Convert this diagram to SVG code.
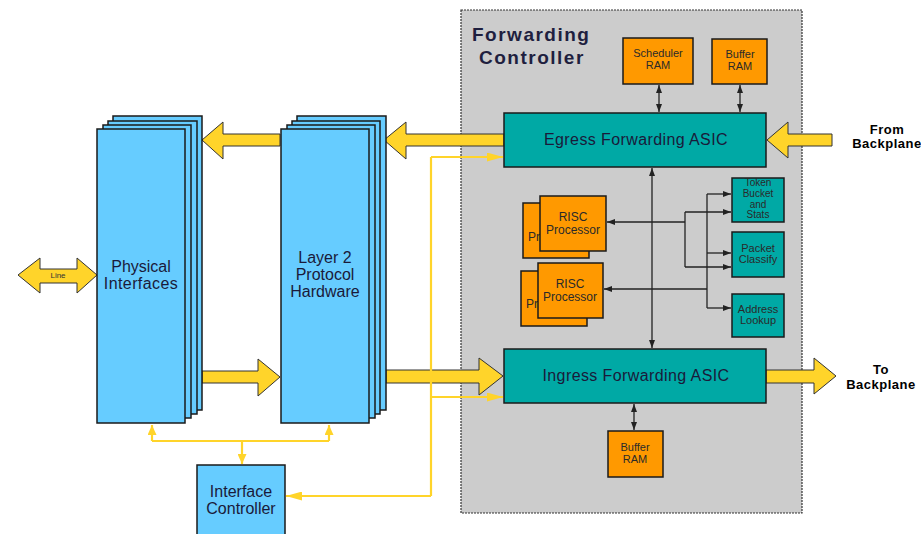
<svg xmlns="http://www.w3.org/2000/svg" width="921" height="534" viewBox="0 0 921 534">
<defs>
<style>
.blue{fill:#66CCFF;stroke:#1a1a1a;stroke-width:1.5}
.teal{fill:#00A9A5;stroke:#1a1a1a;stroke-width:1.5}
.orng{fill:#FF9900;stroke:#1a1a1a;stroke-width:1.5}
.big{fill:#FFD42A;stroke:#333;stroke-width:1}
.bus{fill:none;stroke:#FFD42A;stroke-width:2.2}
.blk{fill:none;stroke:#222;stroke-width:1.3}
.t16{font-family:"Liberation Sans",Arial,sans-serif;font-size:16px;fill:#1a1a3a;text-anchor:middle}
.t12{font-family:"Liberation Sans",Arial,sans-serif;font-size:12px;fill:#2a2a2a;text-anchor:middle}
.t11{font-family:"Liberation Sans",Arial,sans-serif;font-size:11px;fill:#2a2a2a;text-anchor:middle}
.t10{font-family:"Liberation Sans",Arial,sans-serif;font-size:10px;fill:#2a2a2a;text-anchor:middle}
.bp{font-family:"Liberation Sans",Arial,sans-serif;font-size:13px;font-weight:bold;fill:#000;text-anchor:middle;letter-spacing:0.5px}
.ttl{font-family:"Liberation Sans",Arial,sans-serif;font-size:19px;font-weight:bold;fill:#1F1F3F;letter-spacing:1.5px}
</style>
<marker id="ba" viewBox="0 0 8 6" refX="8" refY="3" markerWidth="8" markerHeight="6" markerUnits="userSpaceOnUse" orient="auto-start-reverse">
<path d="M0,0 L8,3 L0,6 z" fill="#222"/>
</marker>
<marker id="ya" viewBox="0 0 16 9" refX="16" refY="4.5" markerWidth="16" markerHeight="9" markerUnits="userSpaceOnUse" orient="auto-start-reverse">
<path d="M0,0 L16,4.5 L0,9 z" fill="#FFD42A"/>
</marker>
<marker id="ys" viewBox="0 0 10 9" refX="10" refY="4.5" markerWidth="10" markerHeight="9" markerUnits="userSpaceOnUse" orient="auto-start-reverse">
<path d="M0,0 L10,4.5 L0,9 z" fill="#FFD42A"/>
</marker>
</defs>
<rect width="921" height="534" fill="#ffffff"/>

<g id="forwarding-controller">
<rect x="461" y="10" width="341" height="503" fill="#CCCCCC" stroke="#333" stroke-width="1.2" stroke-dasharray="2,1"/>
<text class="ttl" x="472" y="41">Forwarding</text>
<text class="ttl" x="479" y="64">Controller</text>
</g>

<g id="connectors">
<path class="big" d="M504,134 L406,134 L406,122 L384,140 L406,159 L406,146 L504,146 z"/>
<path class="big" d="M280,134 L223,134 L223,122 L202,140 L223,159 L223,146 L280,146 z"/>
<path class="big" d="M202,371 L258,371 L258,359 L280,377 L258,396 L258,383 L202,383 z"/>
<path class="big" d="M386,370 L479,370 L479,358 L503,376 L479,395 L479,383 L386,383 z"/>
<path class="big" d="M832,134 L788,134 L788,122 L767,140 L788,158 L788,146 L832,146 z"/>
<path class="big" d="M766,370 L814,370 L814,358 L836,376 L814,394 L814,383 L766,383 z"/>
<path class="big" d="M18,275 L40,258 L40,269 L77,269 L77,258 L97,275 L77,293 L77,283 L40,283 L40,293 z"/>
<text x="58" y="278" style="font-family:'Liberation Sans',Arial,sans-serif;font-size:8px;fill:#333;text-anchor:middle">Line</text>

<path class="bus" d="M431,157 L431,496"/>
<path class="bus" d="M431,157 L503,157" marker-end="url(#ya)"/>
<path class="bus" d="M431,397 L503,397" marker-end="url(#ya)"/>
<path class="bus" d="M431,496 L286,496" marker-end="url(#ya)"/>
<path class="bus" d="M152,441 L329,441"/>
<path class="bus" d="M152,441 L152,425" marker-end="url(#ys)"/>
<path class="bus" d="M329,441 L329,425" marker-end="url(#ys)"/>
<path class="bus" d="M242,441 L242,464" marker-end="url(#ys)"/>

<path class="blk" d="M659,85 L659,112" marker-start="url(#ba)" marker-end="url(#ba)"/>
<path class="blk" d="M740,85 L740,112" marker-start="url(#ba)" marker-end="url(#ba)"/>
<path class="blk" d="M652,168 L652,348" marker-start="url(#ba)" marker-end="url(#ba)"/>
<path class="blk" d="M634,404 L634,430" marker-start="url(#ba)" marker-end="url(#ba)"/>
<path class="blk" d="M685,222 L607,222" marker-end="url(#ba)"/>
<path class="blk" d="M685,212 L685,267"/>
<path class="blk" d="M685,212 L731,212" marker-end="url(#ba)"/>
<path class="blk" d="M685,267 L731,267" marker-end="url(#ba)"/>
<path class="blk" d="M707,289 L604,289" marker-end="url(#ba)"/>
<path class="blk" d="M707,194 L707,308"/>
<path class="blk" d="M707,194 L731,194" marker-end="url(#ba)"/>
<path class="blk" d="M707,253 L731,253" marker-end="url(#ba)"/>
<path class="blk" d="M707,308 L731,308" marker-end="url(#ba)"/>
</g>

<g id="physical-interfaces">
<rect class="blue" x="113" y="116" width="89" height="294"/>
<rect class="blue" x="108" y="121" width="89" height="293"/>
<rect class="blue" x="103" y="125" width="88" height="293"/>
<rect class="blue" x="97" y="129" width="88" height="294"/>
<text class="t16" x="141" y="272">Physical</text>
<text class="t16" x="141" y="289" style="letter-spacing:0.4px">Interfaces</text>
</g>

<g id="layer2-protocol-hardware">
<rect class="blue" x="297" y="116" width="89" height="294"/>
<rect class="blue" x="292" y="121" width="88" height="293"/>
<rect class="blue" x="287" y="125" width="88" height="293"/>
<rect class="blue" x="281" y="129" width="88" height="294"/>
<text class="t16" x="325" y="263">Layer 2</text>
<text class="t16" x="325" y="280">Protocol</text>
<text class="t16" x="325" y="297">Hardware</text>
</g>

<g id="interface-controller">
<rect class="blue" x="197" y="465" width="88" height="80"/>
<text class="t16" x="241" y="497">Interface</text>
<text class="t16" x="241" y="514">Controller</text>
</g>

<g id="scheduler-ram">
<rect class="orng" x="623" y="38" width="70" height="46"/>
<text class="t11" x="658" y="57">Scheduler</text>
<text class="t11" x="658" y="69">RAM</text>
</g>

<g id="buffer-ram-egress">
<rect class="orng" x="712" y="39" width="55" height="45"/>
<text class="t11" x="740" y="58">Buffer</text>
<text class="t11" x="740" y="70">RAM</text>
</g>

<g id="egress-asic">
<rect class="teal" x="504" y="113" width="262" height="54"/>
<text class="t16" x="636" y="145" style="letter-spacing:0.4px">Egress Forwarding ASIC</text>
</g>

<g id="risc-processor-1">
<rect class="orng" x="523" y="203" width="66" height="55"/>
<text class="t12" x="528" y="241" style="text-anchor:start">Pr</text>
<rect class="orng" x="540" y="196" width="66" height="55"/>
<text class="t12" x="573" y="221">RISC</text>
<text class="t12" x="573" y="234">Processor</text>
</g>

<g id="risc-processor-2">
<rect class="orng" x="521" y="271" width="66" height="55"/>
<text class="t12" x="526" y="308" style="text-anchor:start">Pr</text>
<rect class="orng" x="538" y="263" width="65" height="55"/>
<text class="t12" x="570" y="288">RISC</text>
<text class="t12" x="570" y="301">Processor</text>
</g>

<g id="token-bucket">
<rect class="teal" x="732" y="178" width="52" height="44"/>
<text class="t10" x="758" y="186">Token</text>
<text class="t10" x="758" y="197">Bucket</text>
<text class="t10" x="758" y="208">and</text>
<text class="t10" x="758" y="218">Stats</text>
</g>

<g id="packet-classify">
<rect class="teal" x="732" y="232" width="52" height="45"/>
<text class="t11" x="758" y="252">Packet</text>
<text class="t11" x="758" y="263">Classify</text>
</g>

<g id="address-lookup">
<rect class="teal" x="732" y="294" width="52" height="43"/>
<text class="t11" x="758" y="313">Address</text>
<text class="t11" x="758" y="324">Lookup</text>
</g>

<g id="ingress-asic">
<rect class="teal" x="504" y="349" width="262" height="54"/>
<text class="t16" x="636" y="381" style="letter-spacing:0.4px">Ingress Forwarding ASIC</text>
</g>

<g id="buffer-ram-ingress">
<rect class="orng" x="608" y="431" width="55" height="46"/>
<text class="t11" x="635" y="451">Buffer</text>
<text class="t11" x="635" y="463">RAM</text>
</g>

<g id="backplane-labels">
<text class="bp" x="887" y="134">From</text>
<text class="bp" x="887" y="148">Backplane</text>
<text class="bp" x="881" y="374">To</text>
<text class="bp" x="881" y="389">Backplane</text>
</g>
</svg>
